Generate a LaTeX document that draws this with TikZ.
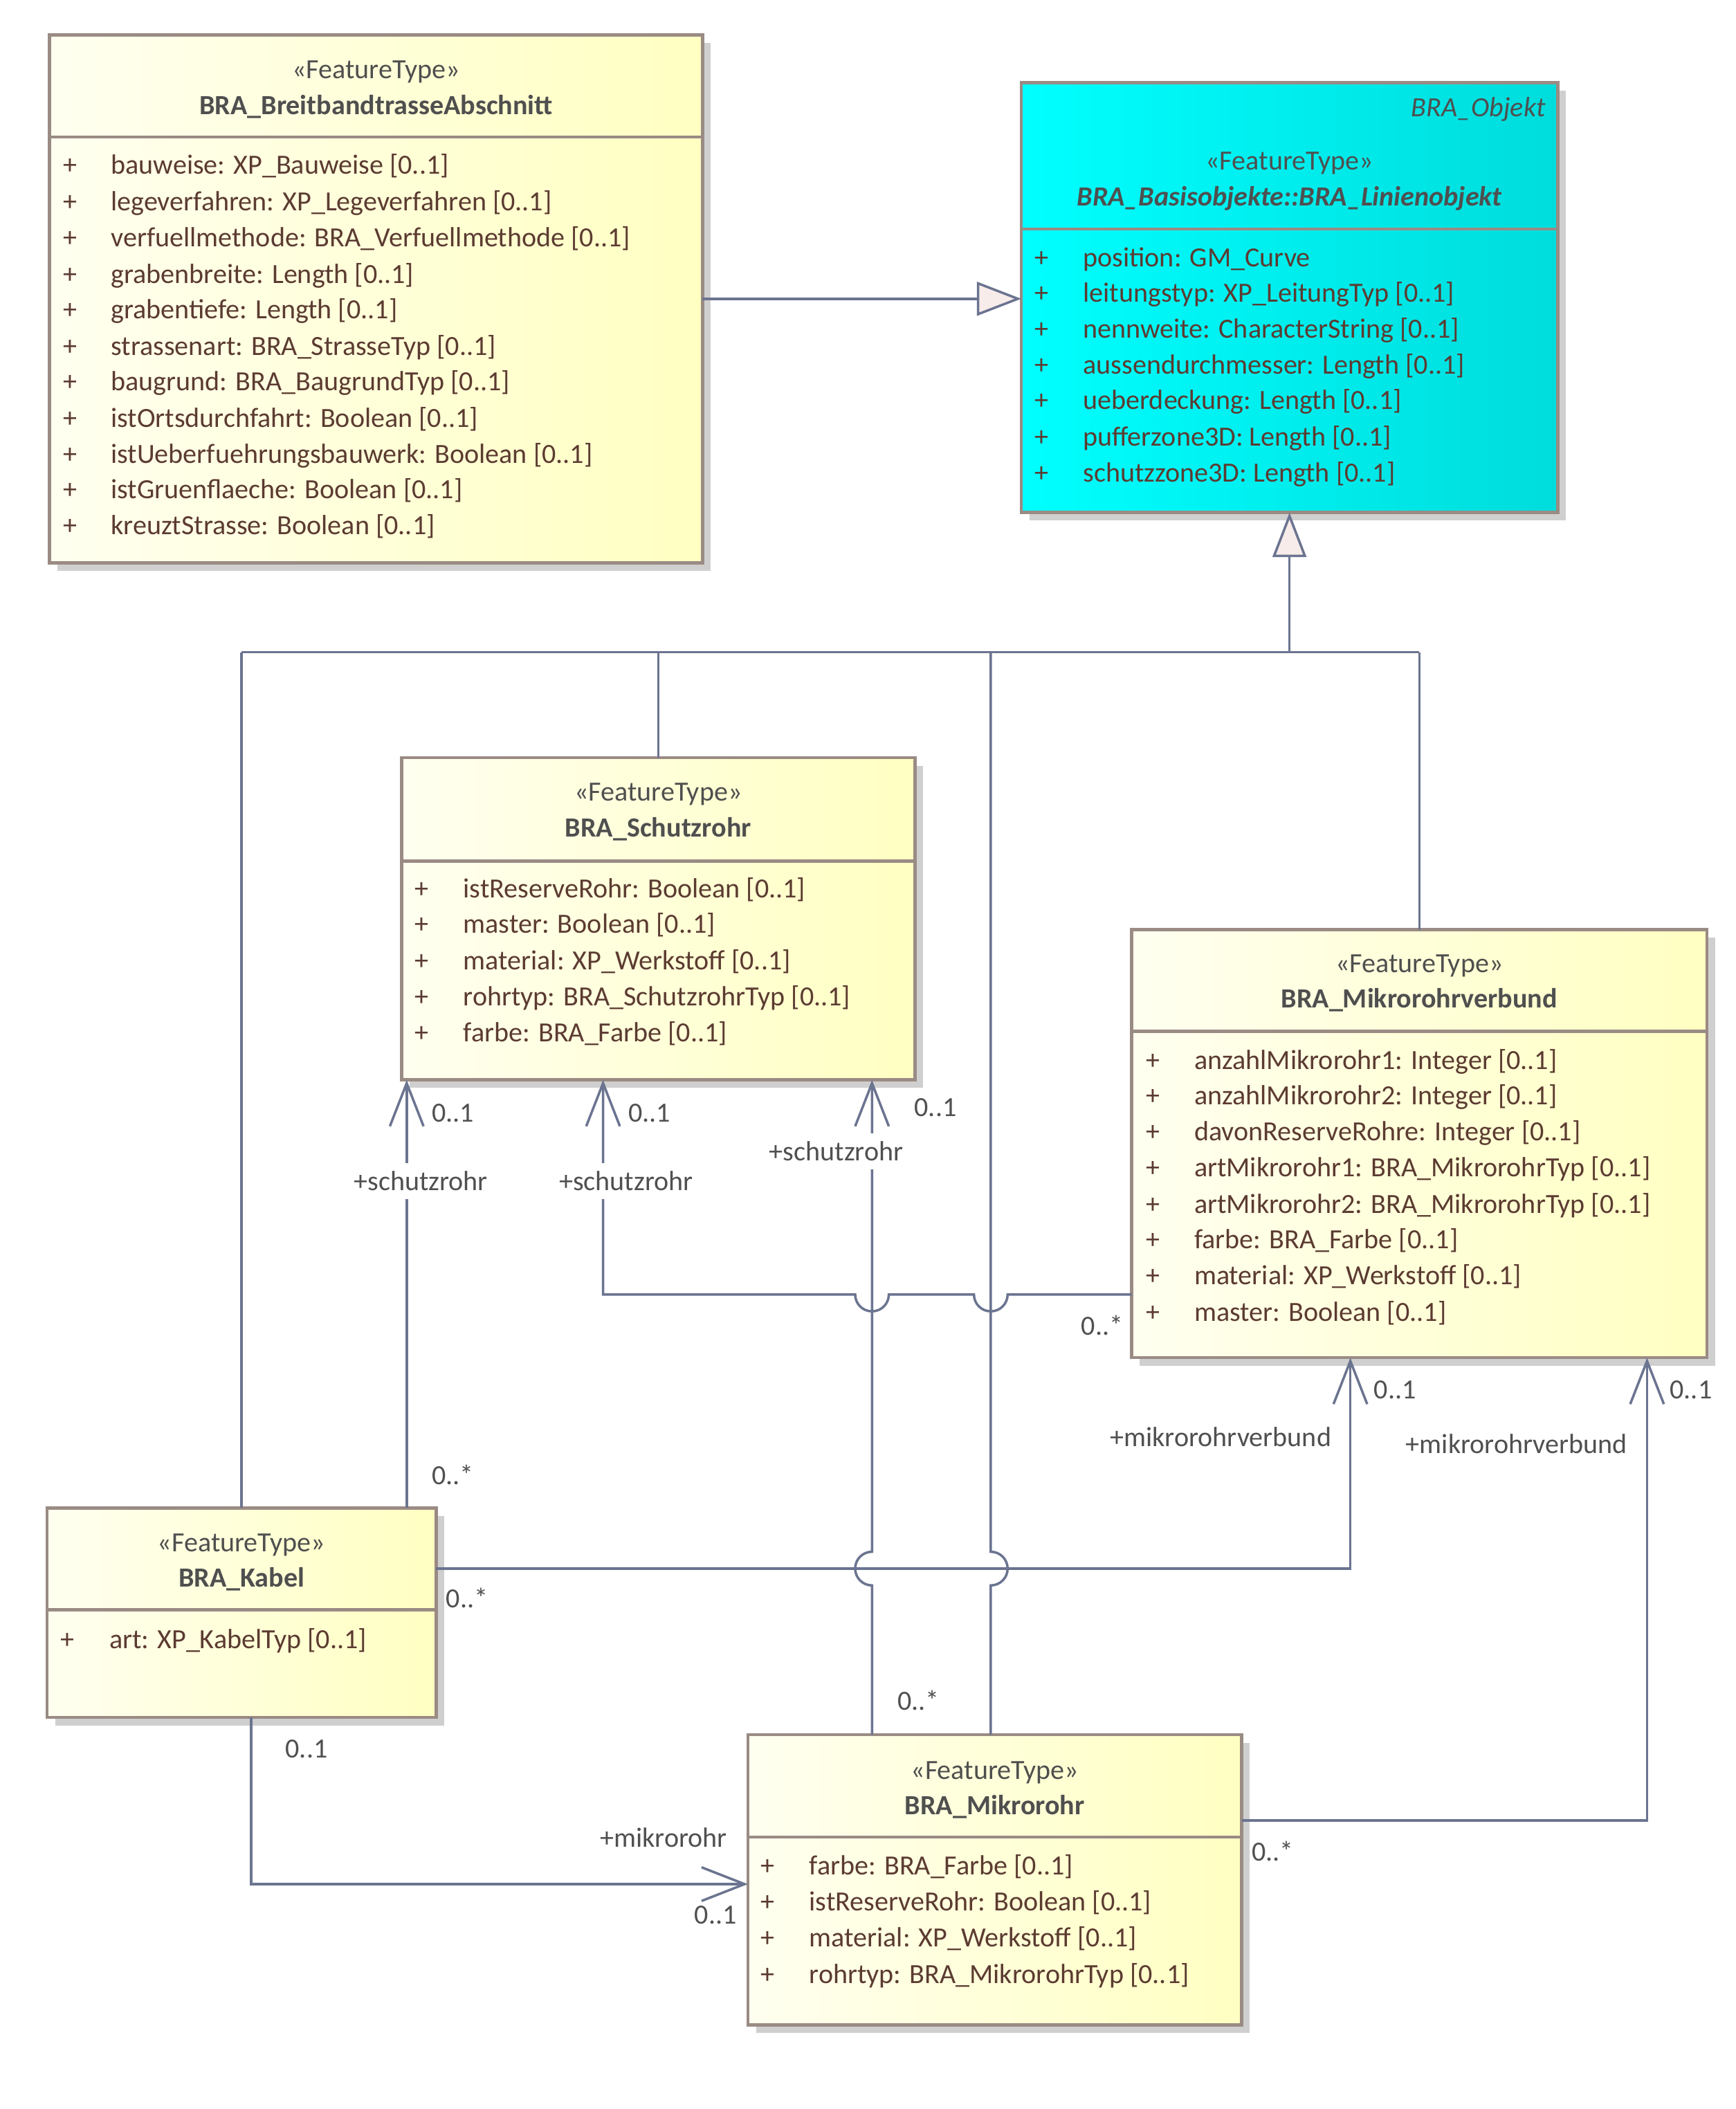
\documentclass[tikz,border=0pt]{standalone}
\usepackage{fontspec}
\setmainfont{Carlito}
\usetikzlibrary{arrows.meta,shadows}
\definecolor{linec}{HTML}{6B7490}
\definecolor{bordc}{HTML}{9A8B84}
\definecolor{yl}{HTML}{FFFFF0}
\definecolor{yr}{HTML}{FFFFC2}
\definecolor{cl}{HTML}{00FFFF}
\definecolor{cr}{HTML}{00DCDC}
\definecolor{hdr}{HTML}{4F4F4F}
\definecolor{attrc}{HTML}{5C3B31}
\definecolor{lblc}{HTML}{505050}
\definecolor{genfill}{HTML}{F8ECEA}
\definecolor{shadowc}{HTML}{CFCFCF}
\newcommand\myfs{\fontsize{20.6}{24}\selectfont}
\begin{document}
\begin{tikzpicture}[x=1pt,y=-1pt,
 every node/.style={font=\myfs},
 umlbox/.style={draw=bordc,line width=2.4pt,inner sep=0pt,outer sep=0pt,left color=yl,right color=yr,drop shadow={shadow xshift=6pt,shadow yshift=-6pt,fill=shadowc,opacity=1}},
 cyanbox/.style={umlbox,left color=cl,right color=cr},
 sepline/.style={draw=bordc,line width=2.4pt},
 stereo/.style={text=hdr,inner sep=0pt,anchor=base},
 cname/.style={text=hdr,inner sep=0pt,anchor=base,font=\myfs\bfseries},
 plusmark/.style={text=attrc,inner sep=0pt,anchor=base},
 attrtext/.style={text=attrc,inner sep=0pt,anchor=base west},
 connline/.style={draw=linec,line width=1.8pt},
 assocarrow/.style={connline,-{Straight Barb[length=32pt,width=25pt]}},
 genarrow/.style={connline,-{Triangle[length=33pt,width=25pt,fill=genfill]}},
 multlbl/.style={text=lblc,inner sep=0pt,anchor=base west},
 multlblc/.style={text=lblc,inner sep=0pt,anchor=base},
 rolelbl/.style={text=lblc,fill=white,inner xsep=1pt,inner ysep=6pt,anchor=base},
 rolefree/.style={text=lblc,inner sep=0pt,anchor=base}
]
\fill[white] (0,0) rectangle (1289,1566);
\useasboundingbox (0,0) rectangle (1289,1566);

% ---------- boxes ----------
\node[umlbox,minimum width=484.9pt,minimum height=391.9pt] (A) at (279.25,221.85) {};
\node[cyanbox,minimum width=398.2pt,minimum height=319.3pt] (B) at (957.5,220.95) {};
\node[umlbox,minimum width=381.2pt,minimum height=239.3pt] (C) at (488.8,682.15) {};
\node[umlbox,minimum width=427pt,minimum height=317.8pt] (D) at (1053.9,849.2) {};
\node[umlbox,minimum width=288.9pt,minimum height=155.5pt] (E) at (179.35,1197.45) {};
\node[umlbox,minimum width=366.6pt,minimum height=215.6pt] (F) at (738.7,1395.8) {};

\coordinate (yA) at (0,101.7);
\coordinate (yB) at (0,170);
\coordinate (yC) at (0,639.4);
\coordinate (yD) at (0,765.8);
\coordinate (yE) at (0,1195.3);
\coordinate (yF) at (0,1364);
\draw[sepline] (A.west |- yA) -- (A.east |- yA);
\draw[sepline] (B.west |- yB) -- (B.east |- yB);
\draw[sepline] (C.west |- yC) -- (C.east |- yC);
\draw[sepline] (D.west |- yD) -- (D.east |- yD);
\draw[sepline] (E.west |- yE) -- (E.east |- yE);
\draw[sepline] (F.west |- yF) -- (F.east |- yF);

% ---------- box A ----------
\node[stereo] (As) at (279.25,58.1) {«FeatureType»};
\node[cname] (An) at (279.25,84.8) {BRA\_BreitbandtrasseAbschnitt};
\node[plusmark] (Ap1) at (52.3,129.4) {+};
\node[attrtext] (Aa1) at (82.2,129.4) {bauweise: XP\_Bauweise [0..1]};
\node[plusmark] (Ap2) at (52.3,156.4) {+};
\node[attrtext] (Aa2) at (82.2,156.4) {legeverfahren: XP\_Legeverfahren [0..1]};
\node[plusmark] (Ap3) at (52.3,183.1) {+};
\node[attrtext] (Aa3) at (82.2,183.1) {verfuellmethode: BRA\_Verfuellmethode [0..1]};
\node[plusmark] (Ap4) at (52.3,210.2) {+};
\node[attrtext] (Aa4) at (82.2,210.2) {grabenbreite: Length [0..1]};
\node[plusmark] (Ap5) at (52.3,236.6) {+};
\node[attrtext] (Aa5) at (82.2,236.6) {grabentiefe: Length [0..1]};
\node[plusmark] (Ap6) at (52.3,263.6) {+};
\node[attrtext] (Aa6) at (82.2,263.6) {strassenart: BRA\_StrasseTyp [0..1]};
\node[plusmark] (Ap7) at (52.3,290.1) {+};
\node[attrtext] (Aa7) at (82.2,290.1) {baugrund: BRA\_BaugrundTyp [0..1]};
\node[plusmark] (Ap8) at (52.3,317.1) {+};
\node[attrtext] (Aa8) at (82.2,317.1) {istOrtsdurchfahrt: Boolean [0..1]};
\node[plusmark] (Ap9) at (52.3,343.9) {+};
\node[attrtext] (Aa9) at (82.2,343.9) {istUeberfuehrungsbauwerk: Boolean [0..1]};
\node[plusmark] (Ap10) at (52.3,370.3) {+};
\node[attrtext] (Aa10) at (82.2,370.3) {istGruenflaeche: Boolean [0..1]};
\node[plusmark] (Ap11) at (52.3,397.1) {+};
\node[attrtext] (Aa11) at (82.2,397.1) {kreuztStrasse: Boolean [0..1]};

% ---------- box B ----------
\node[text=hdr,inner sep=0pt,anchor=base east,font=\myfs\itshape] (Bo) at (1147.7,86.6) {BRA\_Objekt};
\node[stereo] (Bs) at (957.5,126.3) {«FeatureType»};
\node[cname,font=\myfs\bfseries\itshape] (Bn) at (957.5,152.6) {BRA\_Basisobjekte::BRA\_Linienobjekt};
\node[plusmark] (Bp1) at (773.4,198.1) {+};
\node[attrtext] (Ba1) at (804.1,198.1) {position: GM\_Curve};
\node[plusmark] (Bp2) at (773.4,224.4) {+};
\node[attrtext] (Ba2) at (804.1,224.4) {leitungstyp: XP\_LeitungTyp [0..1]};
\node[plusmark] (Bp3) at (773.4,250.8) {+};
\node[attrtext] (Ba3) at (804.1,250.8) {nennweite: CharacterString [0..1]};
\node[plusmark] (Bp4) at (773.4,277.7) {+};
\node[attrtext] (Ba4) at (804.1,277.7) {aussendurchmesser: Length [0..1]};
\node[plusmark] (Bp5) at (773.4,304) {+};
\node[attrtext] (Ba5) at (804.1,304) {ueberdeckung: Length [0..1]};
\node[plusmark] (Bp6) at (773.4,330.9) {+};
\node[attrtext] (Ba6) at (804.1,330.9) {pufferzone3D: Length [0..1]};
\node[plusmark] (Bp7) at (773.4,358) {+};
\node[attrtext] (Ba7) at (804.1,358) {schutzzone3D: Length [0..1]};

% ---------- box C ----------
\node[stereo] (Cs) at (488.8,594.9) {«FeatureType»};
\node[cname] (Cn) at (488.8,621.3) {BRA\_Schutzrohr};
\node[plusmark] (Cp1) at (313,666.5) {+};
\node[attrtext] (Ca1) at (343.9,666.5) {istReserveRohr: Boolean [0..1]};
\node[plusmark] (Cp2) at (313,692.8) {+};
\node[attrtext] (Ca2) at (343.9,692.8) {master: Boolean [0..1]};
\node[plusmark] (Cp3) at (313,719.9) {+};
\node[attrtext] (Ca3) at (343.9,719.9) {material: XP\_Werkstoff [0..1]};
\node[plusmark] (Cp4) at (313,746.7) {+};
\node[attrtext] (Ca4) at (343.9,746.7) {rohrtyp: BRA\_SchutzrohrTyp [0..1]};
\node[plusmark] (Cp5) at (313,773.4) {+};
\node[attrtext] (Ca5) at (343.9,773.4) {farbe: BRA\_Farbe [0..1]};

% ---------- box D ----------
\node[stereo] (Ds) at (1053.9,722) {«FeatureType»};
\node[cname] (Dn) at (1053.9,748.2) {BRA\_Mikrorohrverbund};
\node[plusmark] (Dp1) at (856.1,794.1) {+};
\node[attrtext] (Da1) at (886.6,794.1) {anzahlMikrorohr1: Integer [0..1]};
\node[plusmark] (Dp2) at (856.1,820.3) {+};
\node[attrtext] (Da2) at (886.6,820.3) {anzahlMikrorohr2: Integer [0..1]};
\node[plusmark] (Dp3) at (856.1,847.1) {+};
\node[attrtext] (Da3) at (886.6,847.1) {davonReserveRohre: Integer [0..1]};
\node[plusmark] (Dp4) at (856.1,873.8) {+};
\node[attrtext] (Da4) at (886.6,873.8) {artMikrorohr1: BRA\_MikrorohrTyp [0..1]};
\node[plusmark] (Dp5) at (856.1,900.8) {+};
\node[attrtext] (Da5) at (886.6,900.8) {artMikrorohr2: BRA\_MikrorohrTyp [0..1]};
\node[plusmark] (Dp6) at (856.1,927) {+};
\node[attrtext] (Da6) at (886.6,927) {farbe: BRA\_Farbe [0..1]};
\node[plusmark] (Dp7) at (856.1,954) {+};
\node[attrtext] (Da7) at (886.6,954) {material: XP\_Werkstoff [0..1]};
\node[plusmark] (Dp8) at (856.1,980.8) {+};
\node[attrtext] (Da8) at (886.6,980.8) {master: Boolean [0..1]};

% ---------- box E ----------
\node[stereo] (Es) at (179.35,1152) {«FeatureType»};
\node[cname] (En) at (179.35,1178.2) {BRA\_Kabel};
\node[plusmark] (Ep1) at (50.3,1224.1) {+};
\node[attrtext] (Ea1) at (81,1224.1) {art: XP\_KabelTyp [0..1]};

% ---------- box F ----------
\node[stereo] (Fs) at (738.7,1321.3) {«FeatureType»};
\node[cname] (Fn) at (738.7,1347.5) {BRA\_Mikrorohr};
\node[plusmark] (Fp1) at (570.1,1391.9) {+};
\node[attrtext] (Fa1) at (600.8,1391.9) {farbe: BRA\_Farbe [0..1]};
\node[plusmark] (Fp2) at (570.1,1418.6) {+};
\node[attrtext] (Fa2) at (600.8,1418.6) {istReserveRohr: Boolean [0..1]};
\node[plusmark] (Fp3) at (570.1,1445.6) {+};
\node[attrtext] (Fa3) at (600.8,1445.6) {material: XP\_Werkstoff [0..1]};
\node[plusmark] (Fp4) at (570.1,1472.6) {+};
\node[attrtext] (Fa4) at (600.8,1472.6) {rohrtyp: BRA\_MikrorohrTyp [0..1]};

% ---------- helper coordinates ----------
\coordinate (J) at (957.5,484.3);
\coordinate (xK) at (302,0);
\coordinate (xS2) at (447.8,0);
\coordinate (xM1) at (647.5,0);
\coordinate (xM2) at (735.7,0);
\coordinate (xV1) at (1002.7,0);
\coordinate (xV2) at (1223,0);
\coordinate (xKb) at (186.6,0);
\coordinate (yH1) at (0,961.2);
\coordinate (yH2) at (0,1164.7);
\coordinate (yH3) at (0,1351.7);
\coordinate (yH4) at (0,1399);

% ---------- generalizations ----------
\draw[genarrow] (A.east) -- (A.east -| B.west);
\draw[genarrow] (J) -- (B.south);
\draw[connline] (E.north |- J) -- (D.north |- J);
\draw[connline] (E.north) -- (E.north |- J);
\draw[connline] (C.north) -- (C.north |- J);
\draw[connline] (D.north) -- (D.north |- J);
\draw[connline] (F.north -| xM2) -- (735.7,1177.2) arc[start angle=90,end angle=-90,radius=12.5] -- (xM2 |- J);

% ---------- associations ----------
\draw[assocarrow] (E.north -| xK) -- (C.south -| xK);
\draw[assocarrow] (D.west |- yH1) -- (748.2,961.2) arc[start angle=0,end angle=180,radius=12.5] -- (660,961.2) arc[start angle=0,end angle=180,radius=12.5] -- (xS2 |- yH1) -- (C.south -| xS2);
\draw[assocarrow] (F.north -| xM1) -- (647.5,1177.2) arc[start angle=90,end angle=270,radius=12.5] -- (C.south -| xM1);
\draw[assocarrow] (E.east |- yH2) -- (xV1 |- yH2) -- (D.south -| xV1);
\draw[assocarrow] (F.east |- yH3) -- (xV2 |- yH3) -- (D.south -| xV2);
\draw[assocarrow] (E.south -| xKb) -- (xKb |- yH4) -- (F.west |- yH4);

% ---------- labels ----------
\node[multlbl] (m1) at (320.4,833) {0..1};
\node[rolelbl] (r1) at (312.5,884) {+schutzrohr};
\node[multlbl] (m2) at (320.4,1102.2) {0..*};
\node[multlbl] (m3) at (466.4,833) {0..1};
\node[rolelbl] (r2) at (464.9,884) {+schutzrohr};
\node[multlblc] (m4) at (818.5,991.3) {0..*};
\node[multlbl] (m5) at (678.8,828.9) {0..1};
\node[rolelbl] (r3) at (621,862.1) {+schutzrohr};
\node[multlbl] (m6) at (666.3,1269.9) {0..*};
\node[multlbl] (m7) at (1020,1038.4) {0..1};
\node[rolefree] (r4) at (906.4,1073.9) {+mikrorohrverbund};
\node[multlbl] (m8) at (331.1,1193.9) {0..*};
\node[multlbl] (m9) at (1239.8,1038.4) {0..1};
\node[rolefree] (r5) at (1126.1,1079) {+mikrorohrverbund};
\node[multlbl] (m10) at (929.4,1381.7) {0..*};
\node[multlbl] (m11) at (211.8,1305.4) {0..1};
\node[rolefree] (r6) at (492.8,1371.7) {+mikrorohr};
\node[multlbl] (m12) at (515.6,1428.6) {0..1};
\end{tikzpicture}
\end{document}
